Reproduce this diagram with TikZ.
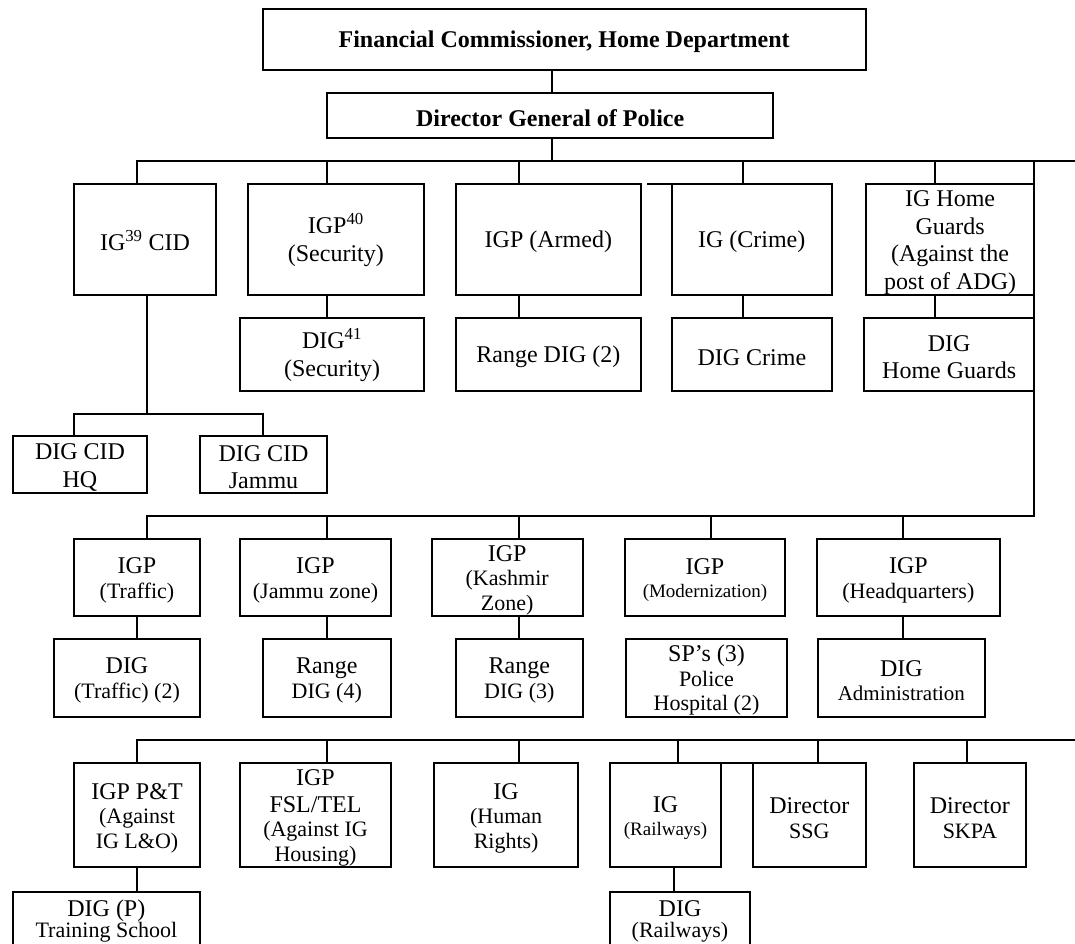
\documentclass[tikz,border=0pt]{standalone}
\usepackage{fontspec}
\setmainfont{Liberation Serif}
\newcommand\fA{\fontsize{24}{27.6}\selectfont}
\newcommand\fB{\fontsize{22}{25.3}\selectfont}
\newcommand\fC{\fontsize{19}{21.8}\selectfont}
\newcommand\bxn[6]{\node[bx,minimum width={(#3)-(#2)},minimum height={(#5)-(#4)}] (#1) at ({((#2)+(#3))/2},{((#4)+(#5))/2}) {\rule{0pt}{22pt}#6};}
\begin{document}
\begin{tikzpicture}[x=1pt,y=-1pt,line width=2pt,
  bx/.style={draw,rectangle,inner sep=0pt,outer sep=0pt,align=center,font=\fA}]
\useasboundingbox (0,0) rectangle (1075,943);
\clip (0,0) rectangle (1075,943);
% top
\bxn{fin}{262.5}{865.8}{9}{70}{\textbf{Financial Commissioner, Home Department}}
\bxn{dgp}{327}{773.3}{92.7}{137.7}{\textbf{Director General of Police}}
% row 1
\bxn{cid}{74}{216}{184}{294.7}{IG\textsuperscript{39} CID}
\bxn{igpsec}{247.7}{424}{184}{294.7}{IGP\textsuperscript{40}\\(Security)}
\bxn{armed}{455.7}{641}{184}{294.7}{IGP (Armed)}
\bxn{crime}{671.7}{831.7}{184}{294.7}{IG (Crime)}
\bxn{hg}{866}{1034.3}{184}{294.7}{IG Home\\Guards\\(Against the\\post of ADG)}
% row 2
\bxn{digsec}{240}{424}{317.7}{390.7}{DIG\textsuperscript{41}\\(Security)}
\bxn{rdig2}{455.7}{641}{317.7}{390.7}{Range DIG (2)}
\bxn{digcrime}{671.7}{832}{317.7}{390.7}{DIG Crime}
\bxn{dighg}{864}{1034.3}{317.7}{390.7}{DIG\\Home Guards}
% CID children
\bxn{cidhq}{12.7}{147.3}{435.7}{492.7}{DIG CID\\HQ}
\bxn{cidjam}{200}{327}{435.7}{492.7}{DIG CID\\Jammu}
% row 3
\bxn{traffic}{74}{200}{538.7}{615.7}{IGP\\[-3pt]{\fB (Traffic)}}
\bxn{jzone}{240}{391}{538.7}{615.7}{IGP\\[-3pt]{\fB (Jammu zone)}}
\bxn{kzone}{431.7}{582.7}{538.7}{615.7}{IGP\\[-3pt]{\fB (Kashmir}\\[-3pt]{\fB Zone)}}
\bxn{modern}{625}{785}{538.7}{615.7}{IGP\\[-5pt]{\fC (Modernization)}}
\bxn{hq}{816.7}{1000}{538.7}{615.7}{IGP\\[-3pt]{\fB (Headquarters)}}
% row 4
\bxn{digtraffic}{54}{200}{638.5}{716.7}{DIG\\[-3pt]{\fB (Traffic) (2)}}
\bxn{rdig4}{262.5}{391}{638.5}{716.7}{Range\\[-3pt]{\fB DIG (4)}}
\bxn{rdig3}{456}{582.7}{638.5}{716.7}{Range\\[-3pt]{\fB DIG (3)}}
\bxn{sps}{625.7}{787.3}{638.5}{716.7}{SP’s (3)\\[-3pt]{\fB Police}\\[-3pt]{\fB Hospital (2)}}
\bxn{digadm}{817.7}{985}{638.5}{716.7}{DIG\\[-3pt]{\fontsize{21}{24}\selectfont Administration}}
% row 5
\bxn{pt}{74}{200}{762.7}{867.3}{IGP P\&T\\[-3pt]{\fB (Against}\\[-3pt]{\fB IG L\&O)}}
\bxn{fsl}{240}{391}{762.7}{867.3}{IGP\\[-1pt]FSL/TEL\\[-3pt]{\fB (Against IG}\\[-3pt]{\fB Housing)}}
\bxn{hr}{434}{578.3}{762.7}{867.3}{IG\\[-3pt]{\fB (Human}\\[-3pt]{\fB Rights)}}
\bxn{rail}{610}{721}{762.7}{867.3}{IG\\[-5pt]{\fC (Railways)}}
\bxn{ssg}{752.7}{866}{762.7}{867.3}{Director\\[-3pt]{\fB SSG}}
\bxn{skpa}{913.7}{1026}{762.7}{867.3}{Director\\[-3pt]{\fB SKPA}}
% row 6 (cut off by the page edge)
\bxn{digp}{12.7}{200}{891.7}{952}{DIG (P)\\[-6pt]{\fB Training School\rule[-12pt]{0pt}{1pt}}}
\bxn{digrail}{610}{750}{891.7}{952}{DIG\\[-6pt]{\fB (Railways)\rule[-12pt]{0pt}{1pt}}}
% bus coordinates
\coordinate (x0) at (551.7,161);
\coordinate (b1a) at (137.3,161);
\coordinate (b1z) at (1075,161);
\coordinate (x2) at (326.7,161);
\coordinate (x3) at (519,161);
\coordinate (x4) at (742.7,161);
\coordinate (x5) at (935,161);
\coordinate (x6) at (1034.3,161);
\coordinate (b2) at (147.3,414);
\coordinate (b2a) at (74,414);
\coordinate (b2b) at (263.3,414);
\coordinate (b3a) at (146.7,515.7);
\coordinate (b3z) at (1034.3,515.7);
\coordinate (y2) at (326.7,515.7);
\coordinate (y3) at (519,515.7);
\coordinate (y4) at (710.7,515.7);
\coordinate (y5) at (902.7,515.7);
\coordinate (b5a) at (136.7,739.5);
\coordinate (b5z) at (1075,739.5);
\coordinate (z2) at (326.7,739.5);
\coordinate (z3) at (519,739.5);
\coordinate (z4) at (677.7,739.5);
\coordinate (z5) at (817.7,739.5);
\coordinate (z6) at (966.7,739.5);
\coordinate (rr) at (674,880);
% connectors
\draw (fin.south -| x0) -- (dgp.north -| x0);
\draw (dgp.south -| x0) -- (x0);
\draw (cid.north -| b1a) -- (b1a) -- (b1z);
\draw (x2) -- (igpsec.north -| x2);
\draw (igpsec.south -| x2) -- (digsec.north -| x2);
\draw (x3) -- (armed.north -| x3);
\draw (armed.south -| x3) -- (rdig2.north -| x3);
\draw (x4) -- (crime.north -| x4);
\draw (crime.south -| x4) -- (digcrime.north -| x4);
\draw (crime.north west) -- ++(-25,0);
\draw (x5) -- (hg.north -| x5);
\draw (hg.south -| x5) -- (dighg.north -| x5);
\draw (cid.south -| b2) -- (b2);
\draw (cidhq.north -| b2a) -- (b2a) -- (b2b) -- (cidjam.north -| b2b);
\draw (x6) -- (b3z) -- (b3a) -- (traffic.north -| b3a);
\draw (y2) -- (jzone.north -| y2);
\draw (jzone.south -| y2) -- (rdig4.north -| y2);
\draw (y3) -- (kzone.north -| y3);
\draw (kzone.south -| y3) -- (rdig3.north -| y3);
\draw (y4) -- (modern.north -| y4);
\draw (y5) -- (hq.north -| y5);
\draw (hq.south -| y5) -- (digadm.north -| y5);
\draw (traffic.south -| b5a) -- (digtraffic.north -| b5a);
\draw (pt.north -| b5a) -- (b5a) -- (b5z);
\draw (pt.south -| b5a) -- (digp.north -| b5a);
\draw (z2) -- (fsl.north -| z2);
\draw (z3) -- (hr.north -| z3);
\draw (z4) -- (rail.north -| z4);
\draw (rail.south -| rr) -- (digrail.north -| rr);
\draw (rail.north east) -- (ssg.north west);
\draw (z5) -- (ssg.north -| z5);
\draw (z6) -- (skpa.north -| z6);
\end{tikzpicture}
\end{document}
